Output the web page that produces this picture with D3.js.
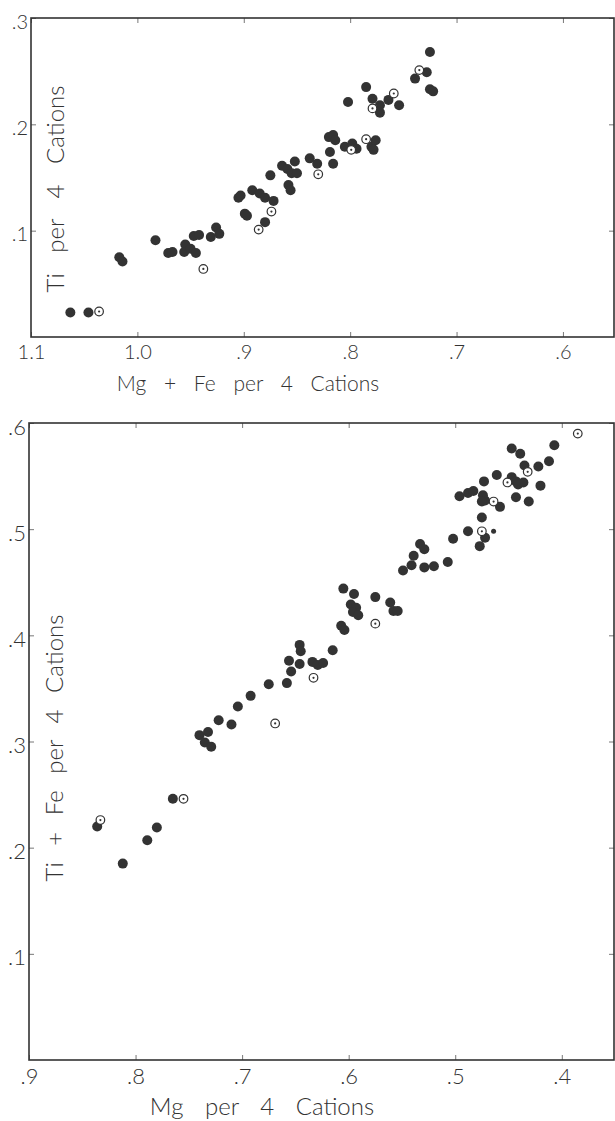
<!DOCTYPE html>
<html>
<head>
<meta charset="utf-8">
<script src="https://cdn.jsdelivr.net/npm/d3@7"></script>
<style>
  body { margin: 0; background: #fff; }
  text { font-family: Lato, "Noto Sans", sans-serif; fill: #333; }
</style>
</head>
<body>
<div id="chart"></div>
<script>
// ---- data ----
// upper panel: x = Mg + Fe per 4 cations, y = Ti per 4 cations
var topSolid = [
  [1.063,0.023],[1.046,0.023],[1.017,0.075],[1.014,0.071],[0.983,0.091],[0.971,0.079],
  [0.967,0.080],[0.955,0.087],[0.956,0.080],[0.950,0.083],[0.945,0.079],[0.947,0.095],
  [0.942,0.096],[0.931,0.094],[0.926,0.103],[0.923,0.097],[0.905,0.131],[0.903,0.133],
  [0.899,0.116],[0.897,0.114],[0.892,0.138],[0.885,0.135],[0.880,0.131],[0.872,0.128],
  [0.875,0.152],[0.880,0.108],[0.864,0.161],[0.859,0.158],[0.852,0.165],[0.855,0.154],
  [0.858,0.143],[0.856,0.138],[0.850,0.154],[0.838,0.168],[0.831,0.163],[0.819,0.174],
  [0.816,0.163],[0.820,0.188],[0.816,0.190],[0.814,0.185],[0.805,0.179],[0.798,0.182],
  [0.794,0.177],[0.780,0.179],[0.776,0.185],[0.778,0.176],[0.802,0.221],[0.785,0.235],
  [0.779,0.224],[0.772,0.218],[0.772,0.211],[0.764,0.223],[0.754,0.218],[0.725,0.268],
  [0.728,0.249],[0.739,0.243],[0.725,0.233],[0.722,0.231]
];
var topOpen = [
  [1.036,0.024],[0.938,0.064],[0.874,0.118],[0.886,0.101],[0.830,0.153],
  [0.799,0.176],[0.785,0.186],[0.779,0.215],[0.759,0.229],[0.735,0.251]
];
var topXTicks = [1.1, 1.0, 0.9, 0.8, 0.7, 0.6];
var topXLabels = ["1.1", "1.0", ".9", ".8", ".7", ".6"];
var topYTicks = [0.1, 0.2, 0.3];
var topYLabels = [".1", ".2", ".3"];

// lower panel: x = Mg per 4 cations, y = Ti + Fe per 4 cations
var bottomSolid = [
  [0.836,0.220],[0.812,0.185],[0.789,0.207],[0.780,0.219],[0.765,0.246],[0.740,0.306],
  [0.732,0.309],[0.735,0.299],[0.729,0.295],[0.722,0.320],[0.710,0.316],[0.704,0.333],
  [0.692,0.343],[0.675,0.354],[0.658,0.355],[0.654,0.366],[0.656,0.376],[0.646,0.373],
  [0.646,0.391],[0.645,0.385],[0.634,0.375],[0.629,0.372],[0.624,0.374],[0.615,0.386],
  [0.607,0.409],[0.604,0.405],[0.605,0.444],[0.595,0.439],[0.575,0.436],[0.561,0.431],
  [0.558,0.423],[0.554,0.423],[0.598,0.429],[0.593,0.426],[0.596,0.422],[0.591,0.419],
  [0.549,0.461],[0.541,0.466],[0.539,0.475],[0.533,0.486],[0.529,0.481],[0.529,0.464],
  [0.520,0.465],[0.507,0.469],[0.502,0.491],[0.488,0.498],[0.477,0.484],[0.472,0.492],
  [0.475,0.511],[0.496,0.531],[0.488,0.534],[0.483,0.536],[0.473,0.545],[0.474,0.532],
  [0.472,0.527],[0.475,0.526],[0.458,0.521],[0.461,0.551],[0.447,0.549],[0.441,0.542],
  [0.436,0.544],[0.443,0.545],[0.443,0.530],[0.431,0.526],[0.435,0.560],[0.447,0.576],
  [0.439,0.571],[0.422,0.559],[0.420,0.541],[0.412,0.564],[0.407,0.579]
];
var bottomOpen = [
  [0.833,0.226],[0.755,0.246],[0.669,0.317],[0.633,0.360],[0.575,0.411],
  [0.475,0.498],[0.464,0.526],[0.451,0.544],[0.432,0.554],[0.385,0.590]
];
var bottomSmall = [[0.464,0.498]];
var bottomXTicks = [0.9, 0.8, 0.7, 0.6, 0.5, 0.4];
var bottomXLabels = [".9", ".8", ".7", ".6", ".5", ".4"];
var bottomYTicks = [0.1, 0.2, 0.3, 0.4, 0.5, 0.6];
var bottomYLabels = [".1", ".2", ".3", ".4", ".5", ".6"];

var width = 615;
var height = 1121;
var ink = "#333";

var svg = d3.select("#chart").append("svg")
    .attr("width", width)
    .attr("height", height);

function panel(o) {
    var x = d3.scaleLinear().domain(o.xDomain).range([o.left, o.right]);
    var y = d3.scaleLinear().domain(o.yDomain).range([o.bottom, o.top]);
    var g = svg.append("g");

    //
    // Axes (ticks point inward on all four sides)
    //
    var xb = g.append("g").attr("transform", "translate(0," + o.bottom + ")")
        .call(d3.axisBottom(x).tickValues(o.xTicks).tickSize(-5).tickPadding(8)
            .tickFormat(function(d, i) { return o.xLabels[i]; }));
    var xt = g.append("g").attr("transform", "translate(0," + o.top + ")")
        .call(d3.axisTop(x).tickValues(o.xTicks).tickSize(-5).tickFormat(""));
    var yl = g.append("g").attr("transform", "translate(" + o.left + ",0)")
        .call(d3.axisLeft(y).tickValues(o.yTicks).tickSize(-5).tickPadding(3)
            .tickFormat(function(d, i) { return o.yLabels[i]; }));
    var yr = g.append("g").attr("transform", "translate(" + o.right + ",0)")
        .call(d3.axisRight(y).tickValues(o.yTicks).tickSize(-5).tickFormat(""));

    [xb, xt, yl, yr].forEach(function(a) {
        a.select(".domain").remove();
        a.selectAll(".tick line").attr("stroke", "#777").attr("stroke-width", 1);
        a.selectAll(".tick text").attr("fill", ink).attr("font-size", o.tickFont)
            .attr("font-family", "Lato, 'Noto Sans', sans-serif").attr("font-weight", 300);
    });
    yl.selectAll(".tick text").attr("dy", "0.5em");

    // frame
    g.append("rect")
        .attr("x", o.left).attr("y", o.top)
        .attr("width", o.right - o.left).attr("height", o.bottom - o.top)
        .attr("fill", "none").attr("stroke", ink).attr("stroke-width", 1.6);

    //
    // Points
    //
    g.selectAll("circle.solid").data(o.solid).enter().append("circle")
        .attr("class", "solid")
        .attr("cx", function(d) { return x(d[0]); })
        .attr("cy", function(d) { return y(d[1]); })
        .attr("r", 5)
        .attr("fill", ink);

    g.selectAll("circle.small").data(o.small || []).enter().append("circle")
        .attr("class", "small")
        .attr("cx", function(d) { return x(d[0]); })
        .attr("cy", function(d) { return y(d[1]); })
        .attr("r", 2.5)
        .attr("fill", ink);

    g.selectAll("circle.open").data(o.open).enter().append("circle")
        .attr("class", "open")
        .attr("cx", function(d) { return x(d[0]); })
        .attr("cy", function(d) { return y(d[1]); })
        .attr("r", 4.3)
        .attr("fill", "#fff")
        .attr("stroke", ink)
        .attr("stroke-width", 1.2);

    g.selectAll("circle.dot").data(o.open).enter().append("circle")
        .attr("class", "dot")
        .attr("cx", function(d) { return x(d[0]); })
        .attr("cy", function(d) { return y(d[1]); })
        .attr("r", 1.1)
        .attr("fill", ink);

    //
    // Titles
    //
    g.append("text")
        .attr("x", o.xTitle[0]).attr("y", o.xTitle[1])
        .attr("text-anchor", "middle")
        .attr("font-size", o.xTitleFont).attr("font-weight", 300)
        .style("word-spacing", o.xWordSpace + "px")
        .text(o.xTitleText);

    g.append("text")
        .attr("transform", "translate(" + o.yTitle[0] + "," + o.yTitle[1] + ") rotate(-90)")
        .attr("text-anchor", "middle")
        .attr("font-size", o.yTitleFont).attr("font-weight", 300)
        .style("word-spacing", o.yWordSpace + "px")
        .text(o.yTitleText);
}

panel({
    left: 31, right: 614, top: 18, bottom: 337,
    xDomain: [1.1, 0.552], yDomain: [0, 0.3],
    xTicks: topXTicks, xLabels: topXLabels,
    yTicks: topYTicks, yLabels: topYLabels,
    solid: topSolid, open: topOpen,
    tickFont: 20,
    xTitleText: "Mg + Fe per 4 Cations", xTitle: [248, 391], xTitleFont: 21, xWordSpace: 12,
    yTitleText: "Ti per 4 Cations", yTitle: [64, 189], yTitleFont: 24, yWordSpace: 14
});

panel({
    left: 29, right: 614, top: 423, bottom: 1060,
    xDomain: [0.9, 0.351], yDomain: [0, 0.6],
    xTicks: bottomXTicks, xLabels: bottomXLabels,
    yTicks: bottomYTicks, yLabels: bottomYLabels,
    solid: bottomSolid, open: bottomOpen, small: bottomSmall,
    tickFont: 22,
    xTitleText: "Mg per 4 Cations", xTitle: [262, 1115], xTitleFont: 24, xWordSpace: 15,
    yTitleText: "Ti + Fe per 4 Cations", yTitle: [63, 748], yTitleFont: 24, yWordSpace: 10
});
</script>
</body>
</html>
